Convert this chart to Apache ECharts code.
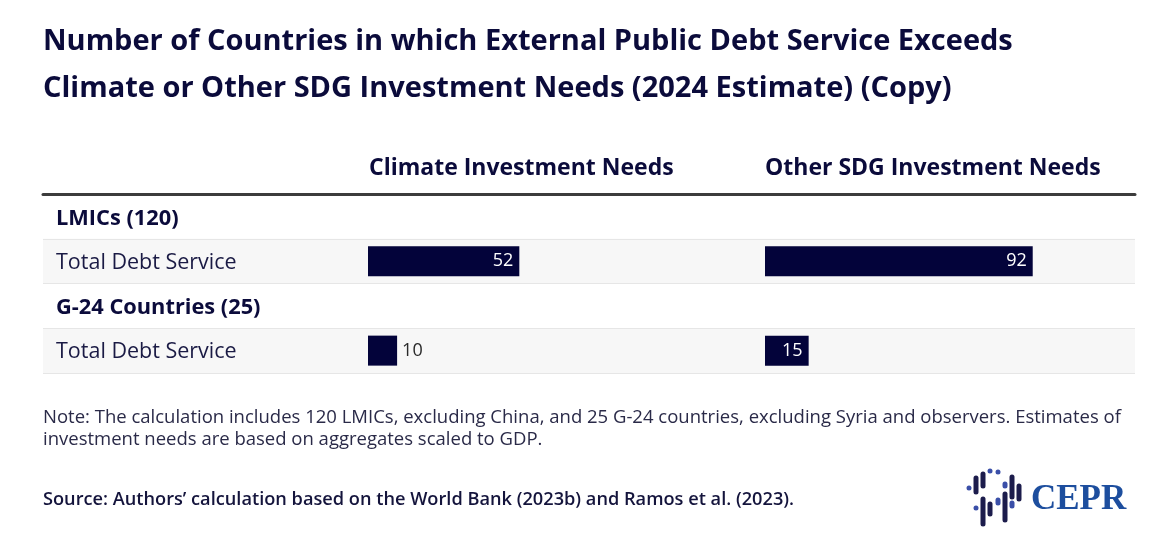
<!DOCTYPE html>
<html>
<head>
<meta charset="utf-8">
<script src="https://cdn.jsdelivr.net/npm/echarts@6/dist/echarts.min.js"></script>
<style>
html,body{margin:0;padding:0;background:#fff;}
#chart{width:1167px;height:546px;}
</style>
</head>
<body>
<div id="chart"></div>
<script>
const titleLines = ['Number of Countries in which External Public Debt Service Exceeds', 'Climate or Other SDG Investment Needs (2024 Estimate) (Copy)'];
const columnHeaders = ['Climate Investment Needs', 'Other SDG Investment Needs'];
const rowKeys = ['lmic_head', 'lmic_total', 'g24_head', 'g24_total'];
const rowLabels = ['LMICs (120)', 'Total Debt Service', 'G-24 Countries (25)', 'Total Debt Service'];
const rowIsHeader = [true, false, true, false];
const climateValues = [null, 52, null, 10];
const sdgValues = [null, 92, null, 15];
const noteLines = ['Note: The calculation includes 120 LMICs, excluding China, and 25 G-24 countries, excluding Syria and observers. Estimates of', 'investment needs are based on aggregates scaled to GDP.'];
const sourceText = 'Source: Authors\u2019 calculation based on the World Bank (2023b) and Ramos et al. (2023).';
const logoText = 'CEPR';

const FONT = '"Open Sans"';
const NAVY = '#0b0b3b';
const BAR = '#03033a';

const TABLE_TOP = 194, TABLE_H = 179;

function barData(vals) {
  return vals.map(v => {
    if (v == null) return null;
    const small = v < 12;
    return {
      value: v,
      label: small
        ? { position: 'right', color: '#2a2a2a', distance: 5 }
        : { position: 'insideRight', color: '#ffffff', distance: 6 }
    };
  });
}

const chart = echarts.init(document.getElementById('chart'), null, { renderer: 'canvas' });

const hiddenCat = (gi) => ({
  type: 'category', gridIndex: gi, data: rowKeys, inverse: true,
  axisLine: { show: false }, axisTick: { show: false }, axisLabel: { show: false }, splitLine: { show: false }
});
const hiddenVal = (gi) => ({
  type: 'value', gridIndex: gi, min: 0, max: 100,
  axisLine: { show: false }, axisTick: { show: false }, axisLabel: { show: false }, splitLine: { show: false }
});

const logoIcon = [
  [969, 488, 488, '#3a4fa8'],
  [976, 478, 492, '#1c1c4c'],
  [976, 508, 508, '#3a4fa8'],
  [983, 474, 486, '#1c1c4c'],
  [983, 499, 524, '#1c1c4c'],
  [990, 471, 471, '#3a4fa8'],
  [990, 504, 514, '#1c1c4c'],
  [998, 472, 472, '#3a4fa8'],
  [998, 500, 503, '#3a4fa8'],
  [1005, 484, 486, '#3a4fa8'],
  [1005, 494, 520, '#1c1c4c'],
  [1012, 477, 497, '#1c1c4c'],
  [1012, 503, 506, '#3a4fa8'],
  [1019, 486, 499, '#1c1c4c']
];

const graphics = [];
columnHeaders.forEach((h, i) => {
  graphics.push({
    type: 'text', left: i === 0 ? 369 : 765, top: 157,
    style: { text: h, font: 'bold 23px ' + FONT, fill: NAVY }
  });
});
noteLines.forEach((t, i) => {
  graphics.push({
    type: 'text', left: 43, top: 408 + i * 22,
    style: { text: t, font: '18.5px ' + FONT, fill: '#2a2a48' }
  });
});
graphics.push({
  type: 'text', left: 43, top: 491,
  style: { text: sourceText, font: '600 18.2px ' + FONT, fill: '#14143c' }
});
logoIcon.forEach(([x, y1, y2, c]) => {
  graphics.push({
    type: 'rect',
    shape: { x: x - 2.5, y: y1 - 2.5, width: 5, height: (y2 - y1) + 5, r: 2.5 },
    style: { fill: c }
  });
});
graphics.push({
  type: 'text', left: 1031, top: 482,
  style: { text: logoText, font: 'bold 35px "Liberation Serif"', fill: '#1d4e9e' }
});

chart.setOption({
  animation: false,
  backgroundColor: '#ffffff',
  title: {
    text: titleLines.join('\n'),
    left: 38, top: 13,
    textStyle: { fontFamily: FONT, fontWeight: 'bold', fontSize: 29, color: NAVY, lineHeight: 47 }
  },
  grid: [
    { left: 43, top: TABLE_TOP, width: 1092, height: TABLE_H },
    { left: 368, top: TABLE_TOP, width: 291, height: TABLE_H },
    { left: 765, top: TABLE_TOP, width: 291, height: TABLE_H }
  ],
  xAxis: [
    { type: 'value', gridIndex: 0, position: 'top', min: 0, max: 1,
      axisLine: { show: true, lineStyle: { color: '#3c3c3c', width: 3 } },
      axisTick: { show: false }, axisLabel: { show: false }, splitLine: { show: false } },
    hiddenVal(1), hiddenVal(2)
  ],
  yAxis: [
    { type: 'category', gridIndex: 0, data: rowKeys, inverse: true,
      axisLine: { show: false }, axisTick: { show: false },
      axisLabel: {
        inside: true, margin: 13,
        formatter: (v, i) => rowIsHeader[i] ? '{h|' + rowLabels[i] + '}' : '{r|' + rowLabels[i] + '}',
        rich: {
          h: { fontFamily: FONT, fontWeight: 'bold', fontSize: 21.8, color: NAVY, padding: [4, 0, 0, 0] },
          r: { fontFamily: FONT, fontSize: 21.5, color: '#1a1a44', padding: [3, 0, 0, 0] }
        }
      },
      splitLine: { show: true, lineStyle: { color: '#e6e6e6', width: 1 } },
      splitArea: { show: true, areaStyle: { color: ['#ffffff', '#f7f7f7'] } }
    },
    hiddenCat(1), hiddenCat(2)
  ],
  series: [
    { type: 'bar', xAxisIndex: 1, yAxisIndex: 1, data: barData(climateValues), barWidth: 30,
      itemStyle: { color: BAR },
      label: { show: true, fontFamily: FONT, fontSize: 18 } },
    { type: 'bar', xAxisIndex: 2, yAxisIndex: 2, data: barData(sdgValues), barWidth: 30,
      itemStyle: { color: BAR },
      label: { show: true, fontFamily: FONT, fontSize: 18 } }
  ],
  graphic: graphics
});
</script>
</body>
</html>
